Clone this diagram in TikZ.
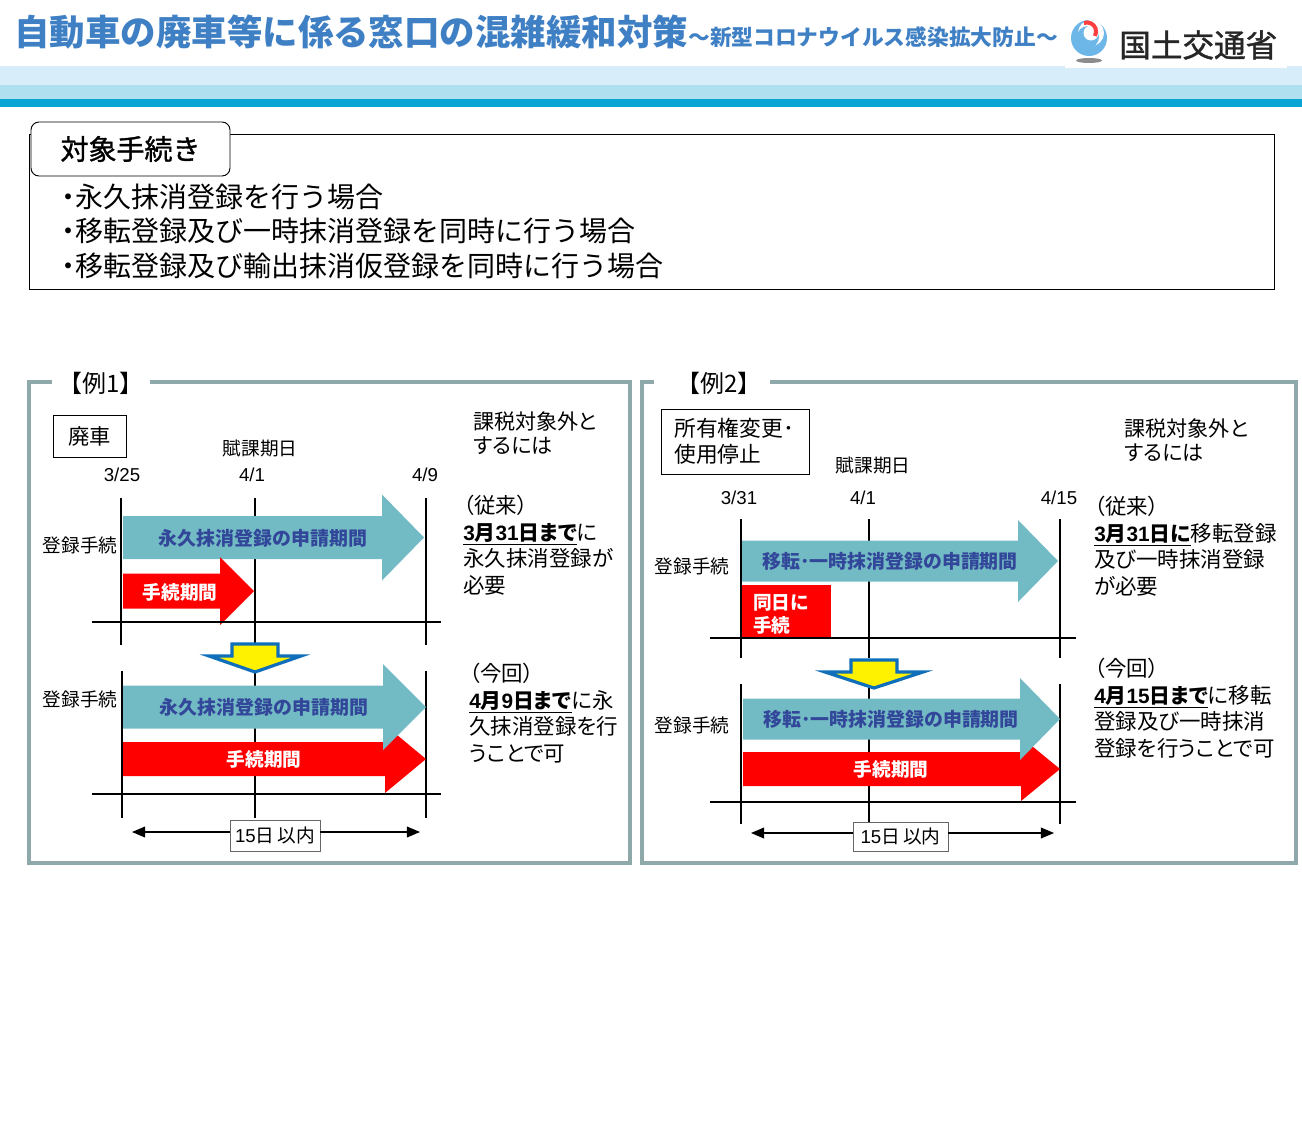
\documentclass[tikz,border=0pt]{standalone}
\usepackage{fontspec}
\setmainfont{Noto Sans CJK JP}
\newfontfamily\latinfont{Liberation Sans}
\newfontfamily\notefont[RawFeature=+palt]{Noto Sans CJK JP}
\newfontfamily\semifont[FakeBold=1.2]{Noto Sans CJK JP}
\usetikzlibrary{positioning, arrows}
\definecolor{titleblue}{HTML}{3F80C4}
\definecolor{panelgray}{HTML}{8FA8AA}
\definecolor{spanteal}{HTML}{72BBC4}
\definecolor{spanblue}{HTML}{33479A}
\definecolor{bandlight}{HTML}{D8EDFA}
\definecolor{bandmid}{HTML}{AFE0F0}
\definecolor{banddark}{HTML}{0AA5D2}
\definecolor{outlineblue}{HTML}{0F6FBA}
\definecolor{logoblue}{HTML}{6CB6E8}
\tikzstyle{panel} = [draw=panelgray, line width=2.8pt]
\tikzstyle{panellabel} = [fill=white, inner sep=0pt, font=\fontsize{18}{20}\selectfont]
\tikzstyle{timeline} = [black, line width=1.5pt]
\tikzstyle{datelabel} = [inner sep=0pt, font=\latinfont\fontsize{14}{16}\selectfont]
\tikzstyle{plain} = [inner sep=0pt, font=\fontsize{14}{17}\selectfont]
\tikzstyle{note} = [inner sep=0pt, anchor=north west, align=left, font=\notefont\fontsize{16.1}{19.9}\selectfont]
\tikzstyle{goalnote} = [inner sep=0pt, anchor=north west, align=left, font=\notefont\fontsize{15.8}{18}\selectfont]
\tikzstyle{typebox} = [draw=black, fill=white, line width=0.7pt, inner sep=0pt, align=left, font=\fontsize{16}{19.5}\selectfont]
\tikzstyle{tealfill} = [fill=spanteal]
\tikzstyle{redfill} = [fill=red]
\tikzstyle{teallabel} = [inner sep=0pt, text=spanblue, font=\bfseries\fontsize{14.2}{17}\selectfont]
\tikzstyle{redlabel} = [inner sep=0pt, text=white, align=left, font=\bfseries\fontsize{14}{17.3}\selectfont]
\tikzstyle{daysbox} = [draw=gray!80!black, fill=white, line width=0.7pt, inner sep=0pt, font=\fontsize{14}{17}\selectfont]
\tikzstyle{arrow} = [line width=1.3pt,-triangle 45]
\newcommand{\spanarrow}[7]{\fill[#1] (#2,#5-#6) -- (#3,#5-#6) -- (#3,#5-#7) -- (#4,#5) -- (#3,#5+#7) -- (#3,#5+#6) -- (#2,#5+#6) -- cycle;}
\newcommand{\downblock}[3]{\draw[fill=yellow, draw=outlineblue, line width=2.4pt, miter limit=20] (#1-23,#2+2) -- (#1+23,#2+2) -- (#1+23,#2+14) -- (#1+#3,#2+14) -- (#1,#2+30) -- (#1-#3,#2+14) -- (#1-23,#2+14) -- cycle;}
\newcommand{\keydate}[1]{\textbf{\underline{\fontsize{15.6}{19.9}\selectfont #1}}}
\newcommand{\keydigit}[1]{{\latinfont\bfseries #1}}
\begin{document}
\begin{tikzpicture}[x=0.75pt, y=-0.75pt]
\useasboundingbox (0,0) rectangle (1302,1138);

% Header
\fill[bandlight] (0,66) rectangle (1302,85);
\fill[bandmid] (0,85) rectangle (1302,99);
\fill[banddark] (0,99) rectangle (1302,107);
\fill[white] (1065,40) rectangle (1287,68);
\node (title) [anchor=west, inner sep=0pt, text=titleblue, font=\bfseries\fontsize{26.6}{30}\selectfont] at (14,32) {自動車の廃車等に係る窓口の混雑緩和対策};
\node (subtitle) [anchor=west, inner sep=0pt, text=titleblue, font=\bfseries\fontsize{16.3}{20}\selectfont] at (688,37) {～新型コロナウイルス感染拡大防止～};
\node (ministry) [anchor=west, inner sep=0pt, text=black!85, font=\semifont\fontsize{23.7}{28}\selectfont] at (1119,45) {国土交通省};

% Logo
\fill[black!45] (1089,60.5) ellipse (13 and 2.5);
\fill[logoblue] (1089,38) circle (18);
\fill[white] (1091,33) circle (13);
\fill[logoblue] (1088,37) circle (11);
\fill[white] (1091,33) circle (7.5);
\draw[red!75, line width=3pt] (1084,23) arc (-110:30:9);

% Target box
\draw[black, line width=0.7pt] (29,134) rectangle (1274,289);
\node (targethead) [draw=black, fill=white, rounded corners=6pt, line width=0.7pt, minimum width=149.25pt, minimum height=40.5pt, inner sep=0pt, font=\semifont\fontsize{21}{25}\selectfont] at (130.5,149) {対象手続き};
\node (targetlist) [anchor=west, inner sep=0pt, align=left, font=\fontsize{21}{25.8}\selectfont] at (61,231) {\textbf{･}永久抹消登録を行う場合\\\textbf{･}移転登録及び一時抹消登録を同時に行う場合\\\textbf{･}移転登録及び輸出抹消仮登録を同時に行う場合};

% Panels
\draw[panel] (29,382) rectangle (630,863);
\draw[panel] (642,382) rectangle (1296,863);
\node (exone) [panellabel, minimum width=74pt] at (101,383) {【例1】};
\node (extwo) [panellabel, minimum width=87pt] at (712,383) {\hspace*{10pt}【例2】};

% Example 1 timelines
\draw[timeline] (121,498) -- (121,645);
\draw[timeline] (255,498) -- (255,645);
\draw[timeline] (426,498) -- (426,645);
\draw[timeline] (122,671) -- (122,818);
\draw[timeline] (255,671) -- (255,818);
\draw[timeline] (426,671) -- (426,818);

% Example 2 timelines
\draw[timeline] (741,519) -- (741,658);
\draw[timeline] (869,519) -- (869,658);
\draw[timeline] (1060,519) -- (1060,658);
\draw[timeline] (741,684) -- (741,824);
\draw[timeline] (869,684) -- (869,824);
\draw[timeline] (1060,684) -- (1060,824);

% Example 1 arrows
\spanarrow{tealfill}{123}{382}{424}{537.5}{21.5}{43}
\spanarrow{redfill}{123}{220}{254}{591}{17.5}{34}
\spanarrow{redfill}{123}{385}{426}{759}{17}{34}
\spanarrow{tealfill}{123}{383}{426}{707}{21.5}{43}
\downblock{255}{642}{46}

% Example 2 arrows
\spanarrow{tealfill}{742}{1018}{1058}{561}{20.5}{41}
\fill[redfill] (742,585) rectangle (831,637);
\spanarrow{redfill}{743}{1021}{1060}{769}{17}{32}
\spanarrow{tealfill}{743}{1020}{1060}{719}{20.5}{41}
\downblock{874}{658}{49}

% Baselines
\draw[timeline] (92,622) -- (441,622);
\draw[timeline] (92,794) -- (441,794);
\draw[timeline] (710,638) -- (1076,638);
\draw[timeline] (710,802) -- (1076,802);

% Example 1 nodes
\node (scrap) [typebox, minimum width=54.75pt, minimum height=31.5pt] at (89.5,436) {廃車};
\node (dueone) [plain] at (260,448) {賦課期日};
\node (dateonea) [datelabel] at (122,475) {3/25};
\node (dateoneb) [datelabel] at (252,475) {4/1};
\node (dateonec) [datelabel] at (425,475) {4/9};
\node (regonea) [plain] at (80,545) {登録手続};
\node (regoneb) [plain] at (80,699) {登録手続};
\node (applyonea) [teallabel] at (263,538) {永久抹消登録の申請期間};
\node (applyoneb) [teallabel] at (264,707) {永久抹消登録の申請期間};
\node (procona) [redlabel] at (180,592) {手続期間};
\node (proconb) [redlabel] at (264,759) {手続期間};
\node (goalone) [goalnote] at (473,411) {課税対象外と\\するには};
\node (oldone) [note] at (463,495) {（従来）\\\keydate{\keydigit{3}月\keydigit{31}日まで}に\\永久抹消登録が\\必要};
\node (newone) [note] at (469,663) {（今回）\\\keydate{\keydigit{4}月\keydigit{9}日まで}に永\\久抹消登録を行\\うことで可};
\node (daysone) [daysbox, minimum width=67.5pt, minimum height=23.25pt] at (275,835.5) {{\latinfont 15}日\,以内};
\coordinate (daysonel) at (132,832);
\coordinate (daysoner) at (420,832);

% Example 2 nodes
\node (owner) [typebox, minimum width=111pt, minimum height=48.75pt, text width=91pt, font=\fontsize{16.3}{19.5}\selectfont] at (735,441.5) {所有権変更･\\使用停止};
\node (duetwo) [plain] at (873,465) {賦課期日};
\node (datetwoa) [datelabel] at (739,498) {3/31};
\node (datetwob) [datelabel] at (863,498) {4/1};
\node (datetwoc) [datelabel] at (1059,498) {4/15};
\node (regtwoa) [plain] at (692,566) {登録手続};
\node (regtwob) [plain] at (692,725) {登録手続};
\node (applytwoa) [teallabel] at (890,561) {移転･一時抹消登録の申請期間};
\node (applytwob) [teallabel] at (891,719) {移転･一時抹消登録の申請期間};
\node (sameday) [redlabel, anchor=north west] at (753,594) {同日に\\手続};
\node (proctwo) [redlabel] at (891,769) {手続期間};
\node (goaltwo) [goalnote] at (1124,418) {課税対象外と\\するには};
\node (oldtwo) [note] at (1094,496) {（従来）\\\keydate{\keydigit{3}月\keydigit{31}日に}移転登録\\及び一時抹消登録\\が必要};
\node (newtwo) [note] at (1094,658) {（今回）\\\keydate{\keydigit{4}月\keydigit{15}日まで}に移転\\登録及び一時抹消\\登録を行うことで可};
\node (daystwo) [daysbox, minimum width=71.25pt, minimum height=21.75pt] at (900.5,836.5) {{\latinfont 15}日\,以内};
\coordinate (daystwol) at (751,833);
\coordinate (daystwor) at (1054,833);

% Arrows
\draw [arrow] (daysone.west |- daysonel) -- (daysonel);
\draw [arrow] (daysone.east |- daysoner) -- (daysoner);
\draw [arrow] (daystwo.west |- daystwol) -- (daystwol);
\draw [arrow] (daystwo.east |- daystwor) -- (daystwor);

\end{tikzpicture}
\end{document}
